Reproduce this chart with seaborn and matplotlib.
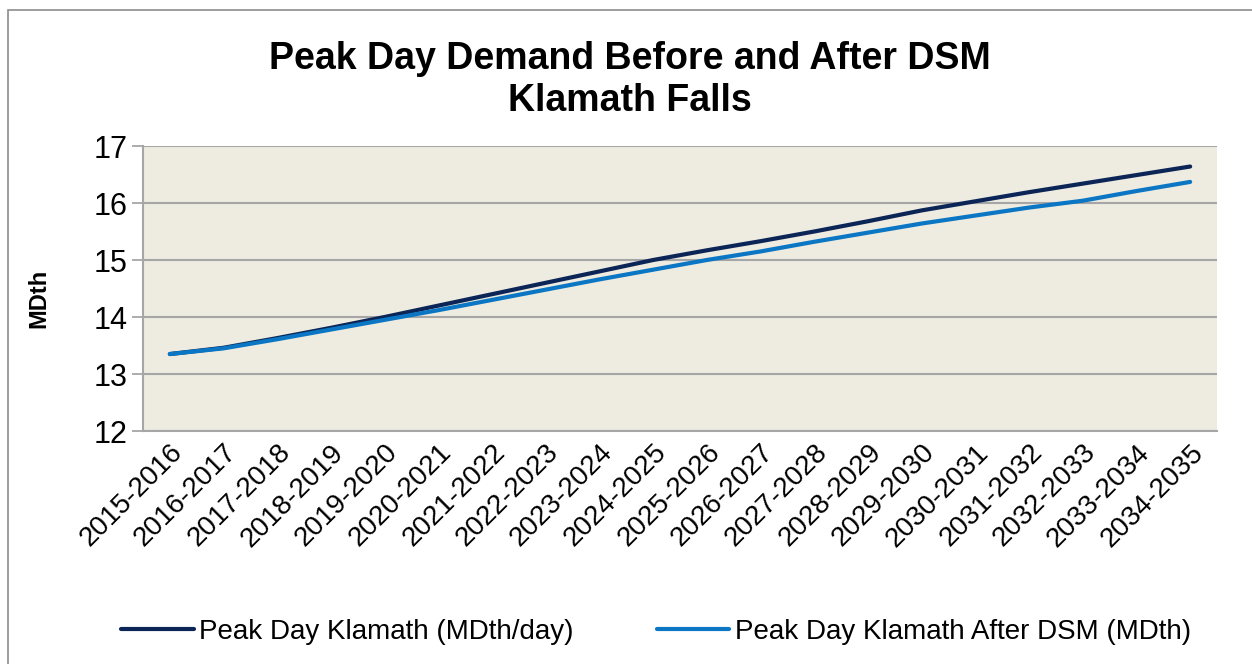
import matplotlib
matplotlib.use("Agg")
import matplotlib.pyplot as plt
import seaborn as sns
import pandas as pd
from matplotlib.patches import Rectangle

categories = ["2015-2016", "2016-2017", "2017-2018", "2018-2019", "2019-2020",
              "2020-2021", "2021-2022", "2022-2023", "2023-2024", "2024-2025",
              "2025-2026", "2026-2027", "2027-2028", "2028-2029", "2029-2030",
              "2030-2031", "2031-2032", "2032-2033", "2033-2034", "2034-2035"]
before_dsm = [13.35, 13.46, 13.63, 13.81, 14.00, 14.20, 14.40, 14.60, 14.80, 15.00,
              15.17, 15.33, 15.50, 15.68, 15.87, 16.03, 16.19, 16.34, 16.49, 16.64]
after_dsm = [13.35, 13.45, 13.61, 13.78, 13.95, 14.12, 14.30, 14.48, 14.66, 14.83,
             15.00, 15.15, 15.32, 15.48, 15.64, 15.78, 15.92, 16.04, 16.21, 16.37]
series_names = ["Peak Day Klamath (MDth/day)", "Peak Day Klamath After DSM (MDth)"]
title = "Peak Day Demand Before and After DSM\nKlamath Falls"
y_label = "MDth"

sns.set_style("white")
plt.rcParams["font.family"] = ["Liberation Sans", "DejaVu Sans"]
plt.rcParams["text.color"] = "black"
plt.rcParams["axes.labelcolor"] = "black"
plt.rcParams["xtick.color"] = "black"
plt.rcParams["ytick.color"] = "black"

df = pd.DataFrame({
    "period": categories * 2,
    "x": list(range(len(categories))) * 2,
    "value": before_dsm + after_dsm,
    "series": [series_names[0]] * len(categories) + [series_names[1]] * len(categories),
})

fig = plt.figure(figsize=(12.52, 6.64), dpi=100)
ax = fig.add_axes([143 / 1252, 1 - 431 / 664, (1217 - 143) / 1252, (431 - 146) / 664])
ax.set_facecolor("#EEECE1")

palette = {series_names[0]: "#0C2557", series_names[1]: "#0A76C4"}
sns.lineplot(data=df, x="x", y="value", hue="series", palette=palette, ax=ax,
             linewidth=3.0, legend=False, solid_capstyle="round")

ax.set_xlim(-0.5, len(categories) - 0.5)
ax.set_ylim(12, 17)
ax.set_yticks([12, 13, 14, 15, 16, 17])
ax.yaxis.grid(True, color="#A6A6A6", linewidth=1.5)
ax.set_axisbelow(True)

ax.set_xticks(range(len(categories)))
ax.set_xticklabels(categories, rotation=45, ha="right", rotation_mode="anchor", fontsize=20)
ax.tick_params(axis="x", which="major", length=0, pad=6, labelcolor="black")
ax.set_xticks([i - 0.5 for i in range(len(categories) + 1)], minor=True)
ax.tick_params(axis="x", which="minor", length=8, width=1.3, color="#A6A6A6", direction="out")
ax.tick_params(axis="y", length=8, width=1.3, color="#A6A6A6", labelsize=22, pad=3,
               left=True, labelcolor="black")

for side in ["top", "right"]:
    ax.spines[side].set_visible(False)
for side in ["left", "bottom"]:
    ax.spines[side].set_color("#A6A6A6")
    ax.spines[side].set_linewidth(1.5)

ax.set_xlabel("")
ax.set_ylabel(y_label, fontsize=17, fontweight="bold", color="black")
ax.yaxis.set_label_coords(-0.086, 0.465)

fig.text(0.503, 1 - 80 / 664, title, ha="center", va="center", fontsize=27,
         fontweight="bold", linespacing=1.22, color="black")

handles = [plt.Line2D([], [], color=palette[n], linewidth=3.0) for n in series_names]
fig.legend(handles, series_names, loc="center", bbox_to_anchor=(0.524, 1 - 632 / 664),
           ncol=2, frameon=False, fontsize=20, handlelength=2.6, handletextpad=0.2,
           columnspacing=3.0, labelcolor="black")

fig.patches.append(Rectangle((8 / 1252, -0.1), 1.2, 1 - 10 / 664 + 0.1,
                             transform=fig.transFigure, fill=False,
                             edgecolor="#8C8C8C", linewidth=1.2))

fig.savefig("out.png", dpi=100, facecolor="white")
